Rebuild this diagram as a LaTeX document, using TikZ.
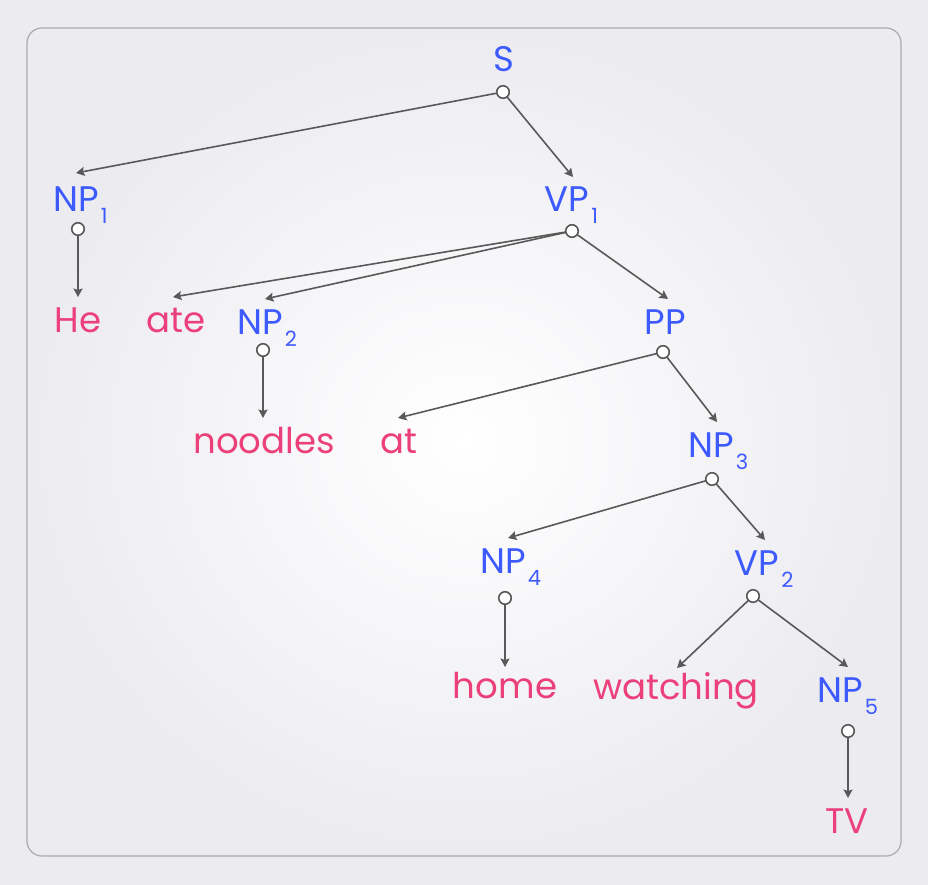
\documentclass[tikz,border=0pt]{standalone}
\usepackage{fontspec}
\setmainfont{Poppins}
\usetikzlibrary{arrows.meta}
\definecolor{bgc}{HTML}{ECEBF0}
\definecolor{framec}{HTML}{AAAAAE}
\definecolor{ntc}{HTML}{3D5AFE}
\definecolor{tc}{HTML}{EC407A}
\definecolor{linec}{HTML}{595959}
\newcommand{\sbs}[1]{\rlap{\hspace{2pt}\raisebox{-12pt}{\fontsize{21}{21}\selectfont #1}}}
\tikzset{
  lab/.style={inner sep=0pt, outer xsep=0pt, outer ysep=10pt, text height=25pt, text depth=0pt, anchor=base, font=\fontsize{35.5}{35.5}\selectfont},
  nt/.style={lab, text=ntc},
  term/.style={lab, text=tc},
  knob/.style={circle, draw=linec, fill=white, line width=1.6pt, minimum size=12.5pt, inner sep=0pt, outer sep=0pt},
  edge/.style={draw=linec, line width=1.6pt, -{Stealth[length=8.5pt,width=9pt,inset=1.5pt]}}
}
\begin{document}
\begin{tikzpicture}[x=1pt,y=-1pt]
\useasboundingbox (0,0) rectangle (928,885);
\fill[bgc] (0,0) rectangle (928,885);
\shade[inner color=white, outer color=bgc, rounded corners=15pt] (27,28) rectangle (901,856);
\draw[framec, line width=1.2pt, rounded corners=15pt] (27,28) rectangle (901,856);

% labels
\node[nt] (S) at (504,72) {S};
\node[nt, outer ysep=14pt] (NPa) at (76,212) {NP\sbs{1}};
\node[nt] (VPa) at (567,212) {VP\sbs{1}};
\node[term] (He) at (78,332) {He};
\node[term] (ate) at (176,332) {ate};
\node[nt] (NPb) at (260,334) {NP\sbs{2}};
\node[nt] (PP) at (665,334) {PP};
\node[term] (noodles) at (264,453) {noodles};
\node[term] (at) at (399,453) {at};
\node[nt] (NPc) at (711,457) {NP\sbs{3}};
\node[nt] (NPd) at (503,573) {NP\sbs{4}};
\node[nt] (VPb) at (757,575) {VP\sbs{2}};
\node[term, outer ysep=6pt] (home) at (505,698) {home};
\node[term, outer ysep=6pt] (watching) at (676,699) {watching};
\node[nt] (NPe) at (840,702) {NP\sbs{5}};
\node[term] (TV) at (847,833) {TV};

% knobs
\node[knob] (kS) at (503,92) {};
\node[knob] (kNPa) at (78,229) {};
\node[knob] (kVPa) at (572,231) {};
\node[knob] (kNPb) at (263,350) {};
\node[knob] (kPP) at (663,352) {};
\node[knob] (kNPc) at (712,479) {};
\node[knob] (kNPd) at (505,598) {};
\node[knob] (kVPb) at (753,596) {};
\node[knob] (kNPe) at (848,731) {};

% edges
\draw[edge] (kS) -- (NPa.north);
\draw[edge] (kS) -- ([xshift=6pt]VPa.north);
\draw[edge] (kNPa) -- (He.north);
\draw[edge] (kVPa) -- ([xshift=-3pt]ate.north);
\draw[edge] (kVPa) -- ([xshift=5pt]NPb.north);
\draw[edge] (kVPa) -- ([xshift=3pt]PP.north);
\draw[edge] (kNPb) -- ([xshift=-1pt]noodles.north);
\draw[edge] (kPP) -- ([xshift=-1pt]at.north);
\draw[edge] (kPP) -- ([xshift=6pt]NPc.north);
\draw[edge] (kNPc) -- ([xshift=5pt]NPd.north);
\draw[edge] (kNPc) -- ([xshift=8pt]VPb.north);
\draw[edge] (kNPd) -- (home.north);
\draw[edge] (kVPb) -- ([xshift=1pt]watching.north);
\draw[edge] (kVPb) -- ([xshift=8pt]NPe.north);
\draw[edge] (kNPe) -- ([xshift=1pt]TV.north);
\end{tikzpicture}
\end{document}
